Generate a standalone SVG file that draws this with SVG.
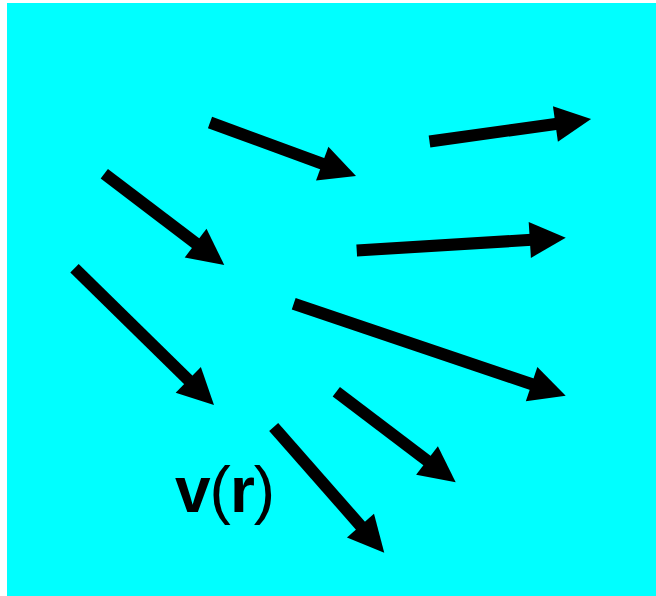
<svg xmlns="http://www.w3.org/2000/svg" width="656" height="596" viewBox="0 0 656 596">
<style>
.bg{fill:#00FFFF}
.arr{stroke:#000;stroke-width:12;fill:none;stroke-linecap:butt;marker-end:url(#head)}
.lbl{font-family:"Liberation Sans",Arial,sans-serif;font-weight:bold;font-size:64px;fill:#000;letter-spacing:-1px}
.par{font-weight:normal}
</style>
<defs>
<marker id="head" markerUnits="userSpaceOnUse" markerWidth="38" markerHeight="36" refX="2" refY="18" orient="auto" overflow="visible">
<path d="M0,0 L36,18 L0,36 Z" fill="#000"/>
</marker>
</defs>
<rect class="bg" x="7" y="3" width="649" height="593"/>
<g id="connectors">
<line class="arr" x1="210" y1="122.5" x2="324.1" y2="164.3"/>
<line class="arr" x1="429.5" y1="141.5" x2="557.4" y2="123.7"/>
<line class="arr" x1="104.3" y1="173.8" x2="197.2" y2="244.4"/>
<line class="arr" x1="356.7" y1="250.5" x2="531.8" y2="239.8"/>
<line class="arr" x1="74.5" y1="268.3" x2="189.7" y2="381.2"/>
<line class="arr" x1="293.7" y1="303.8" x2="533.5" y2="384.8"/>
<line class="arr" x1="336.3" y1="391.7" x2="428.6" y2="461.7"/>
<line class="arr" x1="273.7" y1="427" x2="361.8" y2="527.2"/>
</g>
<g id="label">
<text class="lbl" x="175" y="512">v<tspan class="par">(</tspan>r<tspan class="par">)</tspan></text>
</g>
</svg>
